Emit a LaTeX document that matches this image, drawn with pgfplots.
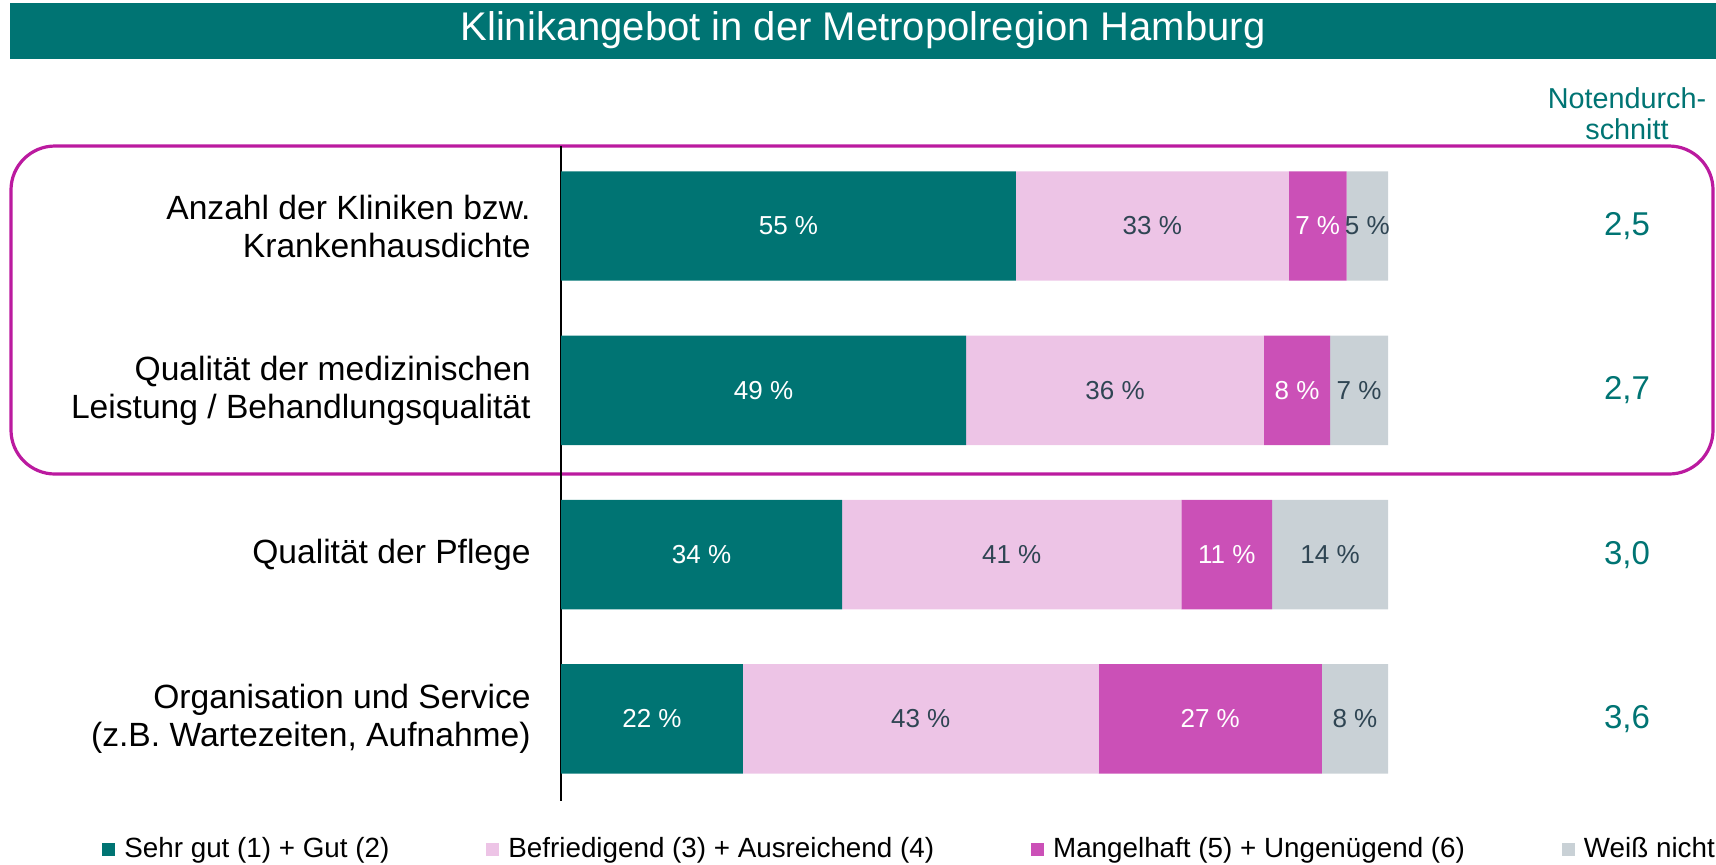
\documentclass[border=0pt]{standalone}
\usepackage{pgfplots}
\pgfplotsset{compat=1.18}
\usepackage{pgfplotstable}
\usepackage{fontspec}
\setmainfont{Liberation Sans}
\definecolor{cteal}{HTML}{007473}
\definecolor{cpink}{HTML}{EDC4E6}
\definecolor{cmag}{HTML}{CB50B7}
\definecolor{cgray}{HTML}{C9D1D6}
\definecolor{cdark}{HTML}{2F4553}
\definecolor{cframe}{HTML}{BB1A9F}
\pgfplotstableread{
cat a b c d
0 55 33 7 5
1 49 36 8 7
2 34 41 11 14
3 22 43 27 8
}\datatable
\begin{document}
\begin{tikzpicture}
\path[use as bounding box] (0,0) rectangle (858pt,-432pt);
\fill[cteal] (5pt,-1.5pt) rectangle (858pt,-29.5pt);
\node[text=white, font=\fontsize{20}{24}\selectfont] at (431.5pt,-15pt) {Klinikangebot in der Metropolregion Hamburg};
\draw[cframe, line width=1.6pt, rounded corners=22pt] (5.5pt,-73pt) rectangle (856.5pt,-237pt);
\begin{axis}[
  at={(280.5pt,-73pt)}, anchor=north west,
  scale only axis, width=413.5pt, height=327.5pt,
  xbar stacked, bar width=0.666,
  xmin=0, xmax=100, ymin=-0.487, ymax=3.5, y dir=reverse,
  axis x line=none, axis y line*=left,
  y axis line style={-, line width=0.8pt, black},
  xtick=\empty, ytick={0,1,2,3},
  major tick length=0pt,
  yticklabels={{Anzahl der Kliniken bzw.\\Krankenhausdichte},{Qualität der medizinischen\\Leistung / Behandlungsqualität},{Qualität der Pflege},{Organisation und Service\\(z.B. Wartezeiten, Aufnahme)}},
  yticklabel style={align=right, font=\fontsize{16.8}{19}\selectfont, inner sep=0pt, xshift=-15pt},
  clip=false,
  point meta=explicit,
  /pgf/number format/assume math mode=true,
  nodes near coords={\pgfmathprintnumber{\pgfplotspointmeta}~\%},
  nodes near coords style={font=\fontsize{13}{15}\selectfont},
  legend columns=4,
  legend image code/.code={\fill[#1] (0pt,-3.25pt) rectangle (6.5pt,3.25pt);},
  legend style={at={(-0.555,-0.0733)}, anchor=west, draw=none, fill=none, inner sep=0pt,
    font=\fontsize{13.9}{16}\selectfont, nodes={inner sep=0pt},
    /tikz/every odd column/.append style={column sep=4.5pt},
    /tikz/every even column/.append style={column sep=48.5pt}},
]
\addplot[fill=cteal, draw=none, every node near coord/.append style={text=white}] table[x=a, y=cat, meta=a] \datatable;
\addplot[fill=cpink, draw=none, every node near coord/.append style={text=cdark}] table[x=b, y=cat, meta=b] \datatable;
\addplot[fill=cmag, draw=none, every node near coord/.append style={text=white}] table[x=c, y=cat, meta=c] \datatable;
\addplot[fill=cgray, draw=none, every node near coord/.append style={text=cdark}] table[x=d, y=cat, meta=d] \datatable;
\legend{Sehr gut (1) + Gut (2), Befriedigend (3) + Ausreichend (4), Mangelhaft (5) + Ungenügend (6), Weiß nicht}
\node[text=cteal, font=\fontsize{16.5}{19}\selectfont] at (axis cs:128.9,0) {2,5};
\node[text=cteal, font=\fontsize{16.5}{19}\selectfont] at (axis cs:128.9,1) {2,7};
\node[text=cteal, font=\fontsize{16.5}{19}\selectfont] at (axis cs:128.9,2) {3,0};
\node[text=cteal, font=\fontsize{16.5}{19}\selectfont] at (axis cs:128.9,3) {3,6};
\end{axis}
\node[text=cteal, align=center, font=\fontsize{14.4}{15.3}\selectfont] at (813.5pt,-56.75pt) {Notendurch-\\schnitt};
\end{tikzpicture}
\end{document}
